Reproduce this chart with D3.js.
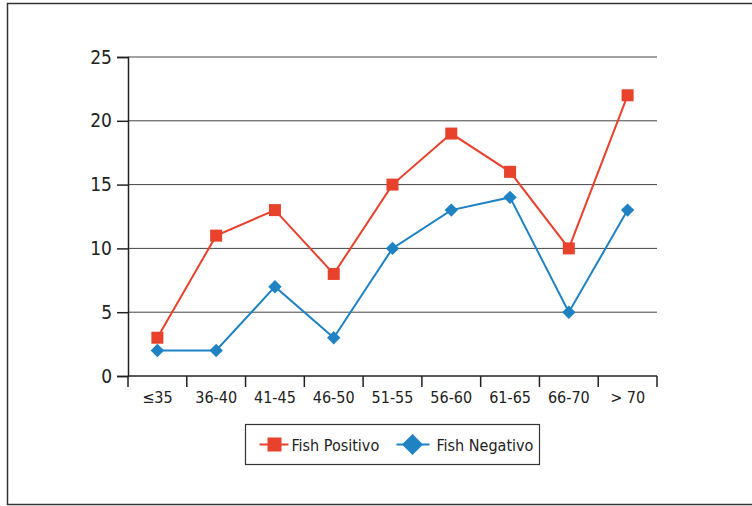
<!DOCTYPE html>
<html>
<head>
<meta charset="utf-8">
<script src="https://d3js.org/d3.v7.min.js"></script>
<style>
  body { margin: 0; background: white; }
  text { font-family: "Liberation Sans Narrow", "DejaVu Sans Condensed", sans-serif; font-stretch: condensed; fill: #222; }
</style>
</head>
<body>
<script>
// age groups and counts
var categories = ["\u226435", "36-40", "41-45", "46-50", "51-55", "56-60", "61-65", "66-70", "> 70"];
var positivo = [3, 11, 13, 8, 15, 19, 16, 10, 22];
var negativo = [2, 2, 7, 3, 10, 13, 14, 5, 13];
var yTicks = [0, 5, 10, 15, 20, 25];

var width = 752, height = 506;
var red = "#e8412c", blue = "#1f82c3";

var svg = d3.select("body").append("svg")
  .attr("width", width)
  .attr("height", height);

// outer frame
svg.append("rect")
  .attr("x", 7.5).attr("y", 3.5)
  .attr("width", 760).attr("height", 501)
  .attr("fill", "white").attr("stroke", "#333").attr("stroke-width", 1.5);

var plotLeft = 128, plotRight = 657, plotTop = 57, plotBottom = 376;

var x = d3.scaleBand().domain(categories).range([plotLeft, plotRight]);
var y = d3.scaleLinear().domain([0, 25]).range([plotBottom, plotTop]);

// gridlines
svg.append("g").selectAll("line")
  .data(yTicks.filter(function(d) { return d > 0; }))
  .enter().append("line")
  .attr("x1", plotLeft).attr("x2", plotRight)
  .attr("y1", function(d) { return y(d); })
  .attr("y2", function(d) { return y(d); })
  .attr("stroke", "#444").attr("stroke-width", 1);

// y axis
var yAxis = svg.append("g")
  .attr("transform", "translate(" + plotLeft + ",0)")
  .call(d3.axisLeft(y).tickValues(yTicks).tickSize(11).tickPadding(5));
yAxis.select(".domain").attr("stroke", "#222").attr("stroke-width", 1.5);
yAxis.selectAll(".tick line").attr("stroke", "#222").attr("stroke-width", 1.5);
yAxis.selectAll("text").attr("font-size", 19).attr("fill", "#222")
  .style("font-family", "'Liberation Sans Narrow', 'DejaVu Sans Condensed', sans-serif");

// x axis: ticks at band edges
var xg = svg.append("g");
xg.append("line")
  .attr("x1", plotLeft).attr("x2", plotRight)
  .attr("y1", plotBottom).attr("y2", plotBottom)
  .attr("stroke", "#222").attr("stroke-width", 1.5);
var edges = categories.map(function(c) { return x(c); }).concat([plotRight]);
xg.selectAll("line.tk")
  .data(edges)
  .enter().append("line")
  .attr("class", "tk")
  .attr("x1", function(d) { return d; }).attr("x2", function(d) { return d; })
  .attr("y1", plotBottom).attr("y2", plotBottom + 11)
  .attr("stroke", "#222").attr("stroke-width", 1.5);
xg.selectAll("text")
  .data(categories)
  .enter().append("text")
  .attr("x", function(d) { return x(d) + x.bandwidth() / 2; })
  .attr("y", plotBottom + 27)
  .attr("text-anchor", "middle")
  .attr("font-size", 16)
  .text(function(d) { return d; });

var cx = function(d, i) { return x(categories[i]) + x.bandwidth() / 2; };

var line = d3.line()
  .x(function(d, i) { return cx(d, i); })
  .y(function(d) { return y(d); });

// Fish Negativo
svg.append("path")
  .datum(negativo)
  .attr("d", line)
  .attr("fill", "none").attr("stroke", blue).attr("stroke-width", 2);
svg.selectAll("path.neg")
  .data(negativo)
  .enter().append("path")
  .attr("class", "neg")
  .attr("d", d3.symbol().type(d3.symbolSquare).size(90))
  .attr("transform", function(d, i) { return "translate(" + cx(d, i) + "," + y(d) + ") rotate(45)"; })
  .attr("fill", blue);

// Fish Positivo
svg.append("path")
  .datum(positivo)
  .attr("d", line)
  .attr("fill", "none").attr("stroke", red).attr("stroke-width", 2);
svg.selectAll("rect.pos")
  .data(positivo)
  .enter().append("rect")
  .attr("class", "pos")
  .attr("x", function(d, i) { return cx(d, i) - 6; })
  .attr("y", function(d) { return y(d) - 6; })
  .attr("width", 12).attr("height", 12)
  .attr("fill", red);

// legend
var lg = svg.append("g").attr("transform", "translate(245.5,424.5)");
lg.append("rect")
  .attr("width", 294).attr("height", 40)
  .attr("fill", "white").attr("stroke", "#333").attr("stroke-width", 1.2);
lg.append("line").attr("x1", 14).attr("x2", 43).attr("y1", 20).attr("y2", 20)
  .attr("stroke", red).attr("stroke-width", 2);
lg.append("rect").attr("x", 22).attr("y", 13).attr("width", 14).attr("height", 14).attr("fill", red);
lg.append("text").attr("x", 46).attr("y", 26).attr("font-size", 16).text("Fish Positivo");
lg.append("line").attr("x1", 151).attr("x2", 184).attr("y1", 20).attr("y2", 20)
  .attr("stroke", blue).attr("stroke-width", 2);
lg.append("path")
  .attr("d", d3.symbol().type(d3.symbolSquare).size(220))
  .attr("transform", "translate(167,20) rotate(45)")
  .attr("fill", blue);
lg.append("text").attr("x", 191).attr("y", 26).attr("font-size", 16).text("Fish Negativo");
</script>
</body>
</html>
